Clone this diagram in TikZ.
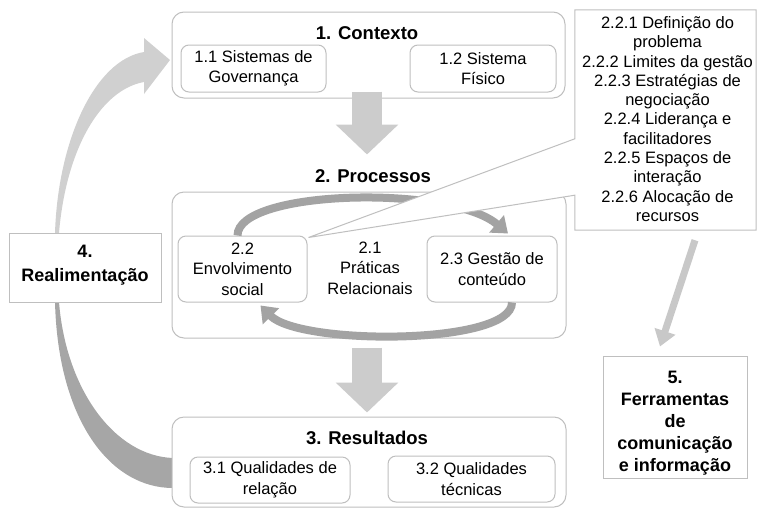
\documentclass[tikz,border=0pt]{standalone}
\usepackage{fontspec}
\setmainfont{Liberation Sans}
\usetikzlibrary{arrows.meta,calc}
\definecolor{boxline}{HTML}{BFBFBF}
\definecolor{blockgray}{HTML}{CCCCCC}
\definecolor{cyclegray}{HTML}{A3A3A3}
\definecolor{fbdark}{HTML}{A6A6A6}
\definecolor{fblight}{HTML}{D0D0D0}
\definecolor{thingray}{HTML}{C8C8C8}
\newcommand{\regfont}{\fontsize{16.5}{20.5}\selectfont}
\begin{document}
\begin{tikzpicture}[x=1pt,y=-1pt,
  every node/.style={font=\regfont},
  outerbox/.style={draw=boxline, line width=1pt, rounded corners=12pt, fill=white, inner sep=0pt},
  subbox/.style={draw=boxline, line width=1pt, rounded corners=8pt, fill=white, inner sep=0pt, align=center},
  sqbox/.style={draw=boxline, line width=1pt, fill=white, inner sep=0pt, align=center},
  titletext/.style={font=\bfseries\fontsize{18.5}{22}\selectfont},
  sidetext/.style={font=\bfseries\fontsize{18}{22}\selectfont},
  blockarrow/.style={line width=30pt, color=blockgray, -{Triangle[length=30pt,width=61pt]}},
  cyclearrow/.style={line width=8pt, color=cyclegray, -{Triangle[length=15pt,width=22pt]}},
  thinarrow/.style={line width=7pt, color=thingray, -{Triangle[length=16pt,width=21pt]}}
]
\useasboundingbox (0,0) rectangle (757,509);

% feedback arrow (shape)
\fill[fbdark] (55,302) .. controls (58,420) and (110,488) .. (173,488) -- (173,458) .. controls (115,456) and (66,390) .. (59,302) -- cycle;
\fill[fblight] (55,233) .. controls (58,140) and (95,60) .. (144,52) -- (144,38) -- (170,60) -- (144,94) -- (144,82) .. controls (100,90) and (66,150) .. (59,233) -- cycle;

\node[sqbox, minimum width=152pt, minimum height=69pt] (fb) at (85,267.5) {};
\node[sidetext, align=center] (fbtext) at (85,265.5) {4.\\[2pt]Realimentação};

% 1. Contexto
\node[outerbox, minimum width=393pt, minimum height=86pt] (ctx) at (368.5,55) {};
\node[titletext] (t1) at (367,33) {1. Contexto};
\node[subbox, minimum width=145pt, minimum height=47pt] (s11) at (253.5,68.5) {1.1 Sistemas de\\Governança};
\node[subbox, minimum width=146pt, minimum height=47pt] (s12) at (483,68.5) {1.2 Sistema\\Físico};

% 2. Processos
\node[titletext] (t2) at (373,176) {2. Processos};
\node[outerbox, minimum width=394pt, minimum height=146pt] (proc) at (369,265) {};
\node[subbox, minimum width=129pt, minimum height=66pt] (s22) at (242.5,269) {2.2\\Envolvimento\\social};
\node[align=center] (s21) at (370,268) {2.1\\Práticas\\Relacionais};
\node[subbox, minimum width=130pt, minimum height=66pt] (s23) at (492,269) {2.3 Gestão de\\conteúdo};

% 3. Resultados
\node[outerbox, minimum width=394pt, minimum height=90pt] (res) at (369,462) {};
\node[titletext] (t3) at (367,438) {3. Resultados};
\node[subbox, minimum width=160pt, minimum height=46pt] (s31) at (270,480) {3.1 Qualidades de\\relação};
\node[subbox, minimum width=167pt, minimum height=46pt] (s32) at (471.5,479) {3.2 Qualidades\\técnicas};

% cycle arrows
\draw[cyclearrow] ($(s22.north)+(-5,0)$) .. controls +(0,-46) and +(-58,-49) .. ($(s23.north)+(16,-2)$);
\draw[cyclearrow] ($(s23.south)+(20,0)$) .. controls +(0,43) and +(39,40) .. ($(s22.south)+(18,3)$);

% callout
\node[minimum width=181pt, minimum height=220pt, inner sep=0pt] (callout) at (665.5,120) {};
\draw[draw=boxline, line width=1pt, fill=white, line join=miter]
  (callout.north west) -- (callout.north east) -- (callout.south east) -- (callout.south west)
  -- ($(callout.south west)+(0,-35)$) -- ($(s22.north east)+(1,2)$) -- ($(callout.north west)+(0,129)$) -- cycle;
\node[align=center, font=\fontsize{16.5}{19.3}\selectfont] (ctext) at ($(callout.center)+(2,-1)$) {2.2.1 Definição do\\problema\\2.2.2 Limites da gestão\\2.2.3 Estratégias de\\negociação\\2.2.4 Liderança e\\facilitadores\\2.2.5 Espaços de\\interação\\2.2.6 Alocação de\\recursos};

% block arrows
\draw[blockarrow] ($(ctx.south)+(-1.5,-7)$) -- ($(proc.north)+(-2,-37)$);
\draw[blockarrow] ($(proc.south)+(-2,9)$) -- ($(res.north)+(-2,-4)$);

% 5. Ferramentas
\node[sqbox, minimum width=144pt, minimum height=122pt] (ferr) at (675,417) {};
\node[sidetext, align=center] (ferrtext) at (675,423) {5.\\Ferramentas\\de\\comunicação\\e informação};
\draw[thinarrow] ($(callout.south)+(29.5,10)$) -- ($(ferr.north)+(-15,-9)$);
\end{tikzpicture}
\end{document}
